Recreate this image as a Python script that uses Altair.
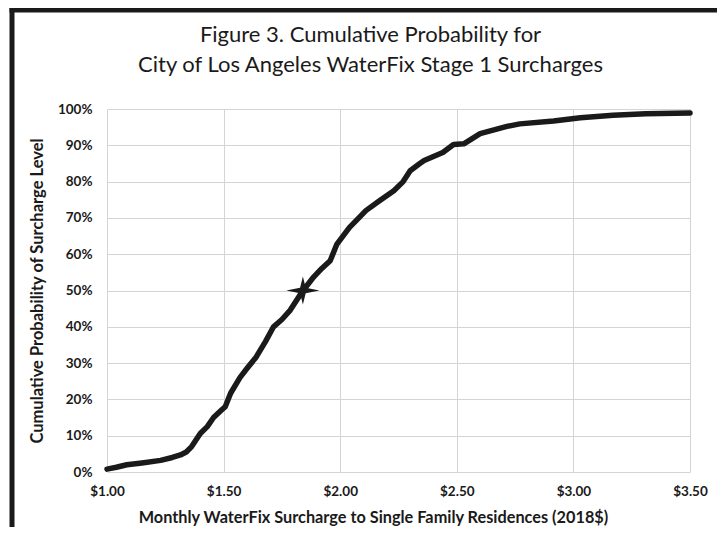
import altair as alt
import pandas as pd

# Monthly surcharge ($) and cumulative probability (%)
surcharge = [1.00, 1.04, 1.085, 1.15, 1.23, 1.28, 1.315, 1.34, 1.363, 1.40, 1.43,
             1.457, 1.49, 1.507, 1.53, 1.57, 1.60, 1.64, 1.68, 1.714, 1.75, 1.786,
             1.836, 1.886, 1.92, 1.957, 1.986, 2.04, 2.08, 2.11, 2.17, 2.23, 2.27,
             2.30, 2.34, 2.36, 2.44, 2.486, 2.53, 2.60, 2.715, 2.77, 2.915, 3.03,
             3.17, 3.31, 3.50]
cum_prob = [0.8, 1.3, 2.0, 2.5, 3.2, 4.0, 4.7, 5.5, 7.0, 10.6, 12.5,
            15.0, 17.0, 18.0, 21.7, 26.0, 28.5, 31.7, 36.0, 40.0, 42.0, 44.6,
            49.6, 53.7, 56.0, 58.2, 62.8, 67.4, 70.0, 72.0, 74.8, 77.5, 80.0,
            83.0, 84.9, 85.8, 88.0, 90.2, 90.4, 93.2, 95.2, 95.9, 96.7, 97.6,
            98.3, 98.7, 98.9]
median_x = [1.84]
median_y = [50.0]

x_ticks = [1.0, 1.5, 2.0, 2.5, 3.0, 3.5]
y_ticks = [0.0, 0.1, 0.2, 0.3, 0.4, 0.5, 0.6, 0.7, 0.8, 0.9, 1.0]

title_line1 = "Figure 3. Cumulative Probability for"
title_line2 = "City of Los Angeles WaterFix Stage 1 Surcharges"
x_title = "Monthly WaterFix Surcharge to Single Family Residences (2018$)"
y_title = "Cumulative Probability of Surcharge Level"

rows = [{"x": a, "y": b / 100, "kind": "curve"} for a, b in zip(surcharge, cum_prob)]
rows += [{"x": a, "y": b / 100, "kind": "median"} for a, b in zip(median_x, median_y)]
df = pd.DataFrame(rows)

FONT = "Lato"
INK = "#1a1a1a"
STAR = ("M0,-0.85 L0.17,-0.17 L1,0 L0.17,0.17 L0,0.85 "
        "L-0.17,0.17 L-1,0 L-0.17,-0.17 Z")

xscale = alt.Scale(domain=[1.0, 3.5], nice=False, zero=False)
yscale = alt.Scale(domain=[0, 1], nice=False)

xaxis = alt.Axis(values=x_ticks, format="$.2f", title=x_title, grid=True,
                 gridColor="#d4d4d4", domain=False, ticks=False,
                 labelFlush=False,
                 labelFont=FONT, labelFontWeight="bold", labelFontSize=13.5,
                 labelColor=INK, labelPadding=12,
                 titleFont=FONT, titleFontWeight="bold", titleFontSize=16.3,
                 titleColor=INK, titleX=266, titleY=45, titleAlign="center",
                 titleBaseline="middle")
yaxis = alt.Axis(values=y_ticks, format=".0%", title=y_title, grid=True,
                 gridColor="#d4d4d4", domain=False, ticks=False,
                 labelFlush=False,
                 labelFont=FONT, labelFontWeight="bold", labelFontSize=13.5,
                 labelColor=INK, labelPadding=15,
                 titleFont=FONT, titleFontWeight="bold", titleFontSize=16.5,
                 titleColor=INK, titleX=-70, titleY=181.5, titleAlign="center",
                 titleBaseline="middle", titleAngle=270)

base = alt.Chart(df).encode(
    x=alt.X("x:Q", scale=xscale, axis=xaxis),
    y=alt.Y("y:Q", scale=yscale, axis=yaxis),
)

line = base.transform_filter(alt.datum.kind == "curve").mark_line(
    color=INK, strokeWidth=5.5, strokeJoin="round", strokeCap="round")

star = base.transform_filter(alt.datum.kind == "median").mark_point(
    shape=STAR, filled=True, color=INK, size=1100, opacity=1)

one_row = alt.Chart(df).transform_filter(alt.datum.kind == "median")
frame_top = one_row.mark_rule(color=INK, strokeWidth=5, strokeCap="square").encode(
    x=alt.value(-95), x2=alt.value(620), y=alt.value(-99))
frame_left = one_row.mark_rule(color=INK, strokeWidth=5, strokeCap="square").encode(
    x=alt.value(-95), y=alt.value(-99), y2=alt.value(430))

chart = alt.layer(line, star, frame_top, frame_left).properties(
    width=583, height=363,
    autosize=alt.AutoSizeParams(type="none"),
    padding={"left": 99, "top": 101, "right": 27, "bottom": 55},
    title=alt.TitleParams(text=title_line1, subtitle=title_line2,
                          font=FONT, fontSize=22, fontWeight="normal", color=INK,
                          subtitleFont=FONT, subtitleFontSize=22,
                          subtitleFontWeight="normal", subtitleColor=INK,
                          subtitlePadding=8, anchor="middle", offset=28,
                          dx=-28, dy=99),
).configure(background="white", view=alt.ViewConfig(stroke="transparent"))

chart.save("out.html", embed_options={"renderer": "svg", "actions": False})
